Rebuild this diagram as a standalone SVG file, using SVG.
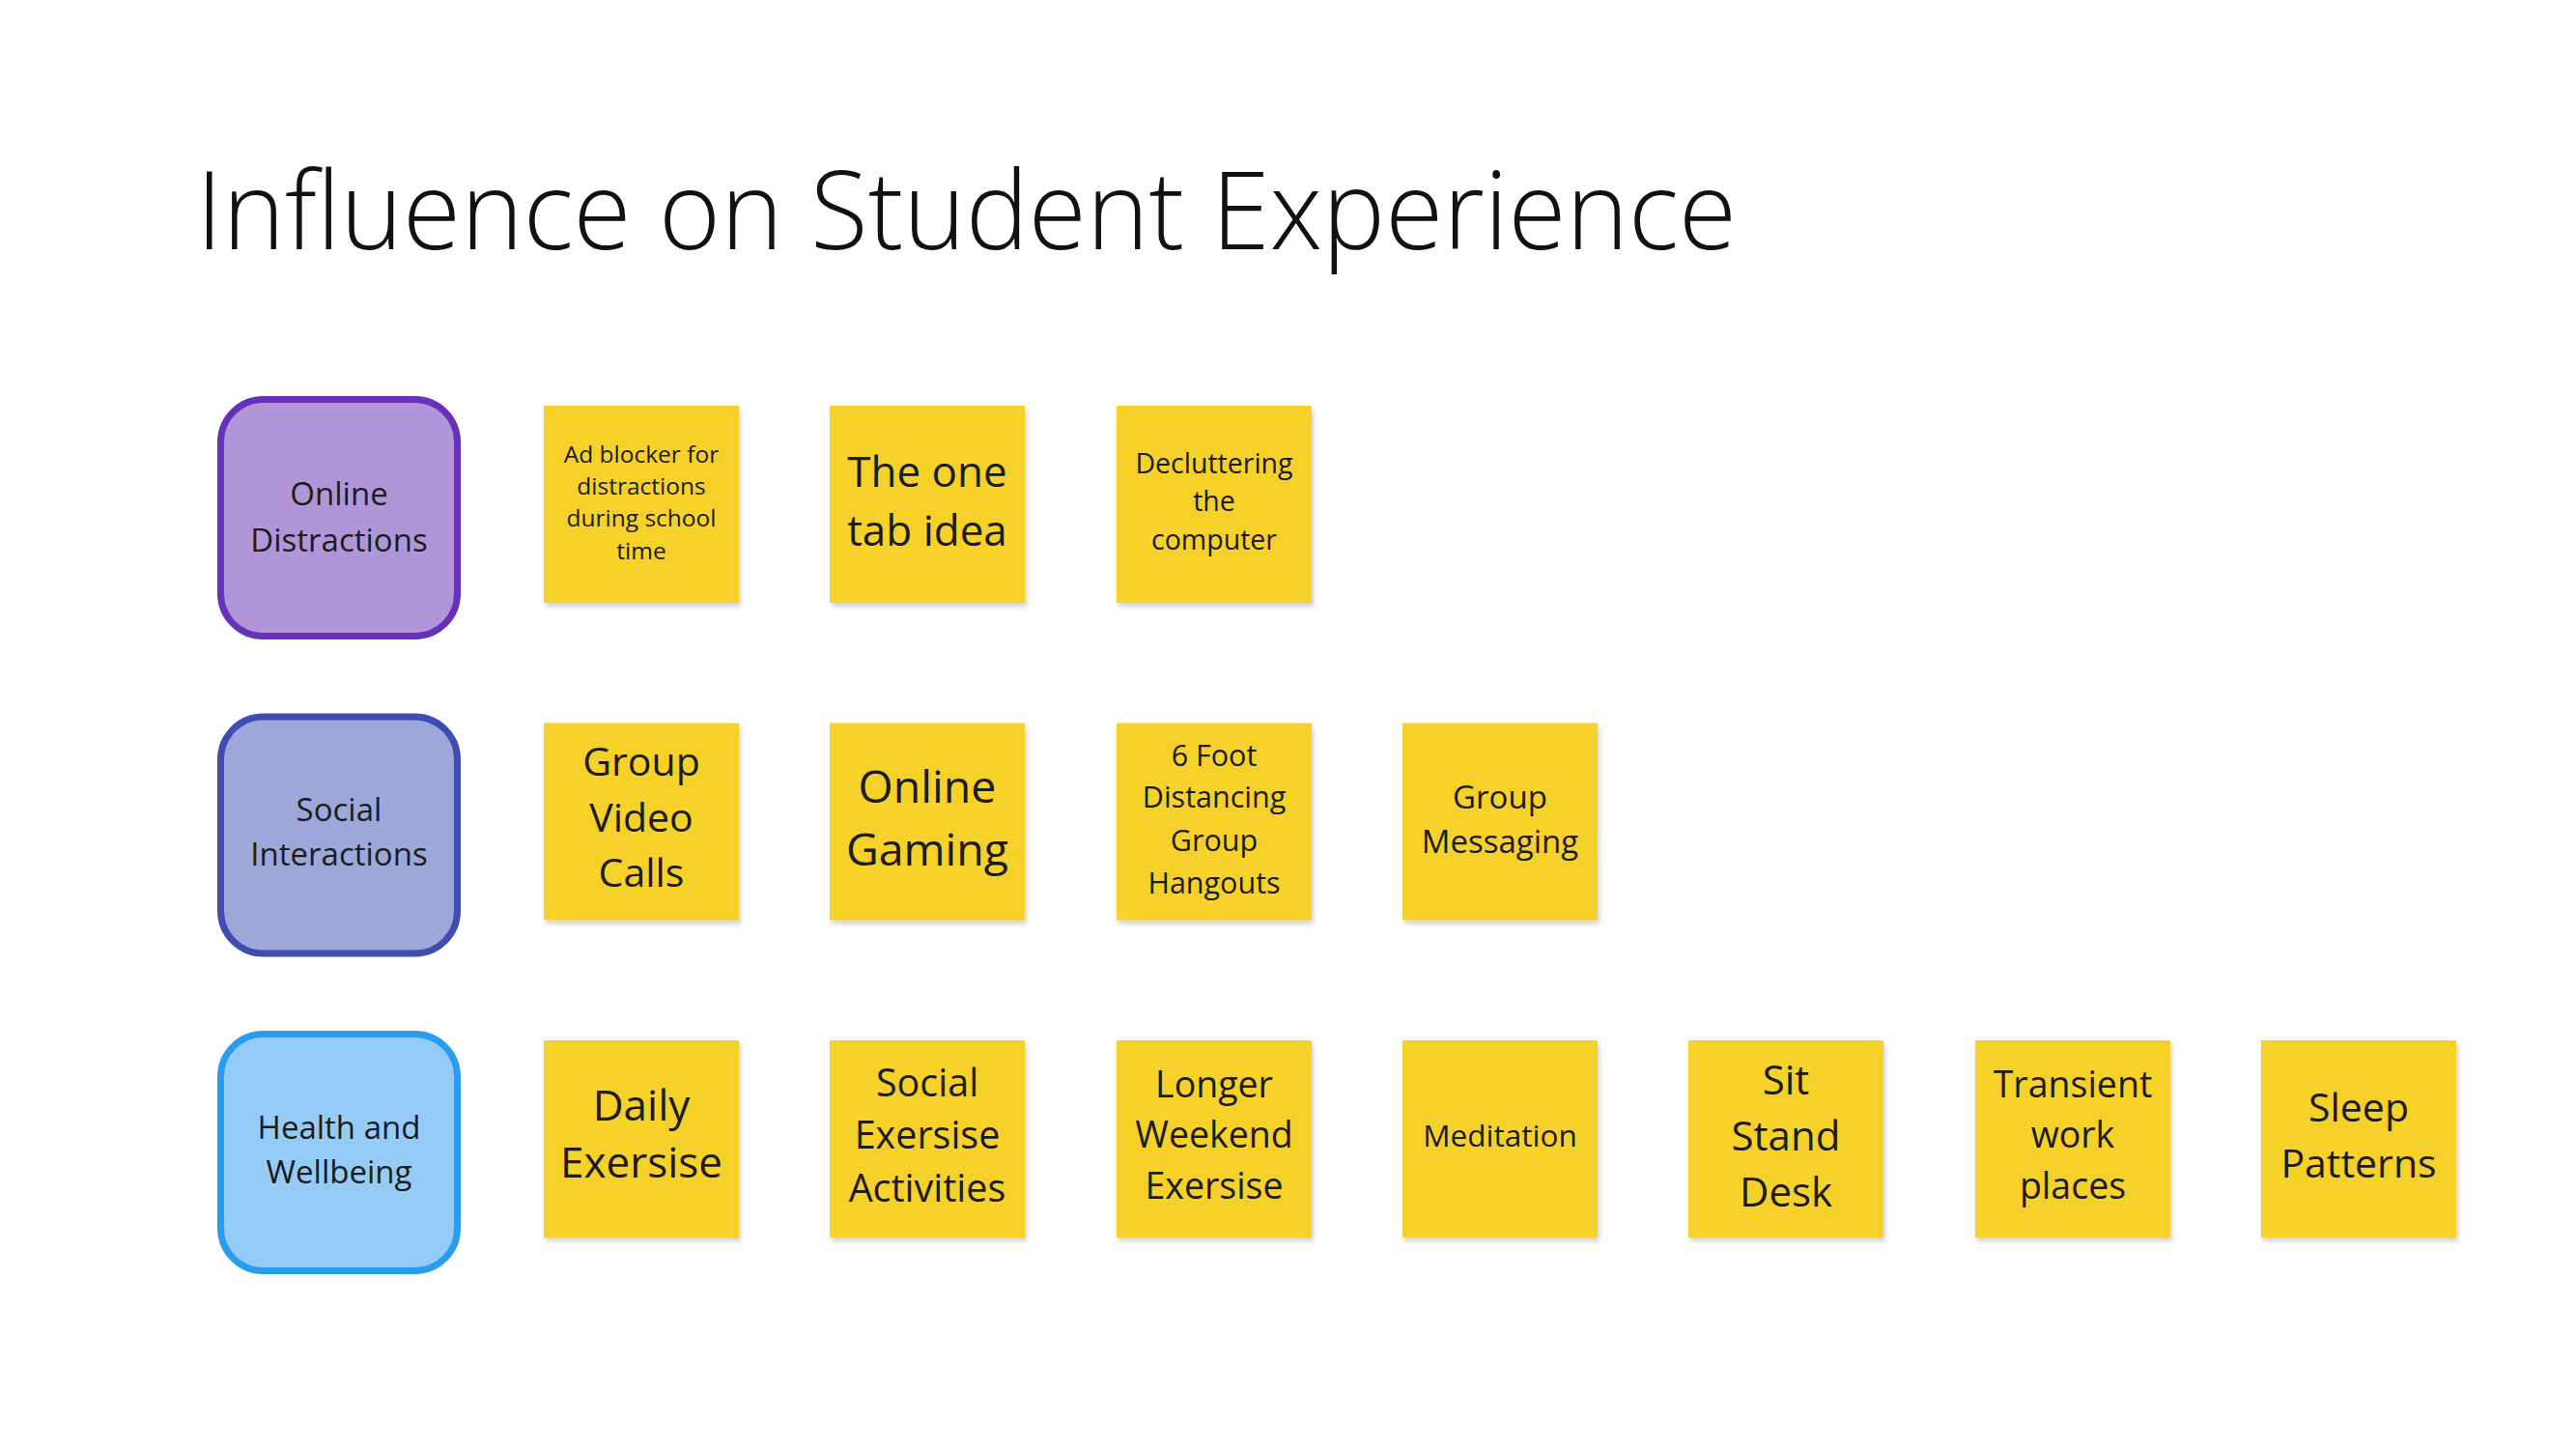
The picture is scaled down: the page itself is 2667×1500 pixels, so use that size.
<svg xmlns="http://www.w3.org/2000/svg" width="2667" height="1500" viewBox="0 0 2667 1500">
<style>
text{font-family:"Open Sans","Noto Sans","Liberation Sans",sans-serif;fill:#1c1c1c;text-anchor:middle;dominant-baseline:central}
.title{font-weight:300;fill:#111;text-anchor:start;dominant-baseline:alphabetic}
.cat{stroke-width:7}
.sticky{fill:#F5D12B;filter:url(#sh)}
.c{font-size:33px}
</style>
<defs>
<filter id="sh" x="-10%" y="-10%" width="125%" height="125%">
<feDropShadow dx="2" dy="4" stdDeviation="2.5" flood-color="#000" flood-opacity="0.18"/>
</filter>
</defs>
<rect width="2667" height="1500" fill="#fff"/>
<text class="title" x="203" y="258" font-size="112" textLength="1595" lengthAdjust="spacingAndGlyphs">Influence on Student Experience</text>
<g id="connectors"/>

<g id="online-distractions">
<rect class="cat" x="228.5" y="413.5" width="245" height="245" rx="44" fill="#B096D9" stroke="#6731B9"/>
<text class="c" x="351" y="510">Online</text>
<text class="c" x="351" y="558">Distractions</text>
</g>
<g id="social-interactions">
<rect class="cat" x="228.5" y="742" width="245" height="245" rx="44" fill="#9EA7DA" stroke="#3F4CB0"/>
<text class="c" x="351" y="837">Social</text>
<text class="c" x="351" y="883">Interactions</text>
</g>
<g id="health-wellbeing">
<rect class="cat" x="228.5" y="1070.5" width="245" height="245" rx="44" fill="#95CBF7" stroke="#2A9CEE"/>
<text class="c" x="351" y="1166">Health and</text>
<text class="c" x="351" y="1212">Wellbeing</text>
</g>

<g id="ad-blocker">
<rect class="sticky" x="563" y="420" width="202" height="204"/>
<g font-size="24.5"><text x="664" y="469">Ad blocker for</text><text x="664" y="502">distractions</text><text x="664" y="535">during school</text><text x="664" y="569">time</text></g>
</g>
<g id="one-tab">
<rect class="sticky" x="859" y="420" width="202" height="204"/>
<g font-size="44"><text x="960" y="487">The one</text><text x="960" y="548">tab idea</text></g>
</g>
<g id="decluttering">
<rect class="sticky" x="1156" y="420" width="202" height="204"/>
<g font-size="28.5"><text x="1257" y="479">Decluttering</text><text x="1257" y="518">the</text><text x="1257" y="558">computer</text></g>
</g>

<g id="group-video-calls">
<rect class="sticky" x="563" y="748.5" width="202" height="204"/>
<g font-size="41"><text x="664" y="787">Group</text><text x="664" y="845">Video</text><text x="664" y="902">Calls</text></g>
</g>
<g id="online-gaming">
<rect class="sticky" x="859" y="748.5" width="202" height="204"/>
<g font-size="46.5"><text x="960" y="813">Online</text><text x="960" y="878">Gaming</text></g>
</g>
<g id="distancing-hangouts">
<rect class="sticky" x="1156" y="748.5" width="202" height="204"/>
<g font-size="30.5"><text x="1257" y="781">6 Foot</text><text x="1257" y="824">Distancing</text><text x="1257" y="869">Group</text><text x="1257" y="913">Hangouts</text></g>
</g>
<g id="group-messaging">
<rect class="sticky" x="1452" y="748.5" width="202" height="204"/>
<g font-size="33"><text x="1553" y="824">Group</text><text x="1553" y="870">Messaging</text></g>
</g>

<g id="daily-exersise">
<rect class="sticky" x="563" y="1077" width="202" height="204"/>
<g font-size="44"><text x="664" y="1143">Daily</text><text x="664" y="1202">Exersise</text></g>
</g>
<g id="social-exersise">
<rect class="sticky" x="859" y="1077" width="202" height="204"/>
<g font-size="39.5"><text x="960" y="1120">Social</text><text x="960" y="1174">Exersise</text><text x="960" y="1229">Activities</text></g>
</g>
<g id="longer-weekend">
<rect class="sticky" x="1156" y="1077" width="202" height="204"/>
<g font-size="37.5"><text x="1257" y="1121">Longer</text><text x="1257" y="1173">Weekend</text><text x="1257" y="1226">Exersise</text></g>
</g>
<g id="meditation">
<rect class="sticky" x="1452" y="1077" width="202" height="204"/>
<text x="1553" y="1174" font-size="31.5">Meditation</text>
</g>
<g id="sit-stand-desk">
<rect class="sticky" x="1748" y="1077" width="202" height="204"/>
<g font-size="42"><text x="1849" y="1116">Sit</text><text x="1849" y="1174">Stand</text><text x="1849" y="1232">Desk</text></g>
</g>
<g id="transient-work">
<rect class="sticky" x="2045" y="1077" width="202" height="204"/>
<g font-size="37.5"><text x="2146" y="1121">Transient</text><text x="2146" y="1173">work</text><text x="2146" y="1226">places</text></g>
</g>
<g id="sleep-patterns">
<rect class="sticky" x="2341" y="1077" width="202" height="204"/>
<g font-size="41"><text x="2442" y="1145">Sleep</text><text x="2442" y="1203">Patterns</text></g>
</g>
</svg>
